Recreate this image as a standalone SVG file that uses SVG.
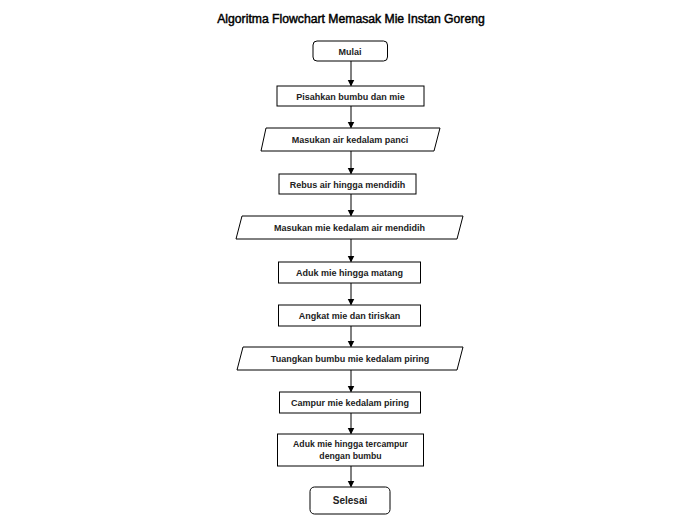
<svg xmlns="http://www.w3.org/2000/svg" width="700" height="526" viewBox="0 0 700 526">
<style>
.s{fill:#fff;stroke:#000;stroke-width:1}
.t{font-family:"Liberation Sans",Arial,sans-serif;font-size:9px;font-weight:bold;fill:#222;text-anchor:middle}
.c{stroke:#000;stroke-width:1;fill:none}
.ttl{font-family:"Liberation Sans",Arial,sans-serif;font-size:12.2px;fill:#000;text-anchor:middle;stroke:#000;stroke-width:0.45}
</style>
<defs>
<marker id="ah" markerWidth="8" markerHeight="8" refX="6" refY="3.5" orient="auto" markerUnits="userSpaceOnUse">
<path d="M0,0 L7,3.5 L0,7 Z" fill="#000"/>
</marker>
</defs>
<rect width="700" height="526" fill="#fff"/>
<text class="ttl" x="351" y="23">Algoritma Flowchart Memasak Mie Instan Goreng</text>
<g id="connectors">
<line class="c" x1="351" y1="61" x2="351" y2="85.5" marker-end="url(#ah)"/>
<line class="c" x1="351" y1="106" x2="351" y2="127.5" marker-end="url(#ah)"/>
<line class="c" x1="351" y1="151" x2="351" y2="173.5" marker-end="url(#ah)"/>
<line class="c" x1="351" y1="194" x2="351" y2="215.5" marker-end="url(#ah)"/>
<line class="c" x1="351" y1="239" x2="351" y2="261.5" marker-end="url(#ah)"/>
<line class="c" x1="351" y1="283" x2="351" y2="304.5" marker-end="url(#ah)"/>
<line class="c" x1="351" y1="326" x2="351" y2="346.5" marker-end="url(#ah)"/>
<line class="c" x1="351" y1="370" x2="351" y2="391.5" marker-end="url(#ah)"/>
<line class="c" x1="351" y1="413" x2="351" y2="433.5" marker-end="url(#ah)"/>
<line class="c" x1="351" y1="466" x2="351" y2="486.5" marker-end="url(#ah)"/>
</g>
<g id="mulai">
<rect class="s" x="313" y="41" width="74.5" height="20" rx="4"/>
<text class="t" x="350" y="54.5">Mulai</text>
</g>
<g id="pisahkan">
<rect class="s" x="277" y="86" width="147" height="20"/>
<text class="t" x="350.5" y="99.5">Pisahkan bumbu dan mie</text>
</g>
<g id="masukan-air">
<polygon class="s" points="266,128 440,128 434,151 261,151"/>
<text class="t" x="350" y="143">Masukan air kedalam panci</text>
</g>
<g id="rebus">
<rect class="s" x="279" y="174" width="137" height="20"/>
<text class="t" x="347.5" y="187.5">Rebus air hingga mendidih</text>
</g>
<g id="masukan-mie">
<polygon class="s" points="242,216 463,216 457,239 236,239"/>
<text class="t" x="349.5" y="231">Masukan mie kedalam air mendidih</text>
</g>
<g id="aduk-matang">
<rect class="s" x="278.5" y="262" width="142" height="21"/>
<text class="t" x="349.5" y="276">Aduk mie hingga matang</text>
</g>
<g id="angkat">
<rect class="s" x="278.5" y="305" width="142" height="21"/>
<text class="t" x="349.5" y="319">Angkat mie dan tiriskan</text>
</g>
<g id="tuangkan">
<polygon class="s" points="243,347 463,347 457,370 237,370"/>
<text class="t" x="350" y="362">Tuangkan bumbu mie kedalam piring</text>
</g>
<g id="campur">
<rect class="s" x="279.5" y="392" width="141" height="21"/>
<text class="t" x="350" y="406">Campur mie kedalam piring</text>
</g>
<g id="aduk-tercampur">
<rect class="s" x="277.5" y="434" width="146" height="32"/>
<text class="t" x="350.5" y="447" style="font-size:8.7px">Aduk mie hingga tercampur</text>
<text class="t" x="350.5" y="459" style="font-size:8.7px">dengan bumbu</text>
</g>
<g id="selesai">
<rect class="s" x="310" y="487" width="80" height="27" rx="4.5"/>
<text class="t" x="350" y="504" style="font-size:10px">Selesai</text>
</g>
</svg>
